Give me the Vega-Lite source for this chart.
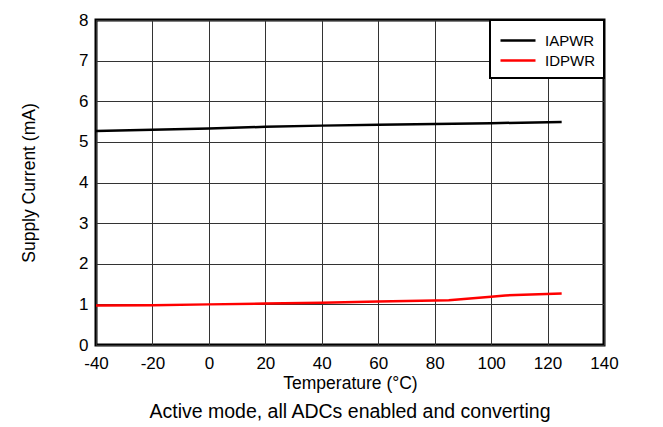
{
  "$schema": "https://vega.github.io/schema/vega-lite/v6.json",
  "autosize": {"type": "none"},
  "padding": {"left": 96, "top": 20, "right": 59, "bottom": 82},
  "width": 508,
  "height": 325,
  "background": "white",
  "config": {
    "font": "Liberation Sans",
    "view": {"stroke": "black", "strokeWidth": 3},
    "axis": {"grid": true, "gridColor": "#333", "gridWidth": 1, "gridOpacity": 1, "domain": false, "ticks": false, "labelFont": "Liberation Sans", "titleFont": "Liberation Sans", "labelFontSize": 17, "labelColor": "black", "titleFontSize": 17.5, "titleFontWeight": "normal", "titleColor": "black", "labelFlush": false},
    "legend": {"labelFont": "Liberation Sans"},
    "title": {"font": "Liberation Sans"}
  },
  "title": {"text": "Active mode, all ADCs enabled and converting", "orient": "bottom", "anchor": "middle", "fontSize": 19.5, "fontWeight": "normal", "color": "black", "offset": 11},
  "data": {"values": [
    {"t": -40, "v": 5.27, "s": "IAPWR"},
    {"t": -20, "v": 5.30, "s": "IAPWR"},
    {"t": 0, "v": 5.33, "s": "IAPWR"},
    {"t": 20, "v": 5.37, "s": "IAPWR"},
    {"t": 40, "v": 5.40, "s": "IAPWR"},
    {"t": 60, "v": 5.42, "s": "IAPWR"},
    {"t": 80, "v": 5.44, "s": "IAPWR"},
    {"t": 100, "v": 5.46, "s": "IAPWR"},
    {"t": 125, "v": 5.49, "s": "IAPWR"},
    {"t": -40, "v": 0.97, "s": "IDPWR"},
    {"t": -20, "v": 0.98, "s": "IDPWR"},
    {"t": 0, "v": 1.0, "s": "IDPWR"},
    {"t": 20, "v": 1.02, "s": "IDPWR"},
    {"t": 40, "v": 1.04, "s": "IDPWR"},
    {"t": 60, "v": 1.07, "s": "IDPWR"},
    {"t": 85, "v": 1.1, "s": "IDPWR"},
    {"t": 100, "v": 1.19, "s": "IDPWR"},
    {"t": 105, "v": 1.22, "s": "IDPWR"},
    {"t": 125, "v": 1.27, "s": "IDPWR"}
  ]},
  "mark": {"type": "line", "strokeWidth": 2.5},
  "encoding": {
    "x": {"field": "t", "type": "quantitative", "scale": {"domain": [-40, 140], "nice": false, "zero": false}, "axis": {"values": [-40, -20, 0, 20, 40, 60, 80, 100, 120, 140], "labelExpr": "replace(datum.label, '−', '-')", "title": "Temperature (°C)", "labelPadding": 10, "titlePadding": 3}},
    "y": {"field": "v", "type": "quantitative", "scale": {"domain": [0, 8], "nice": false}, "axis": {"values": [0, 1, 2, 3, 4, 5, 6, 7, 8], "title": "Supply Current (mA)", "labelPadding": 8, "titlePadding": 40}},
    "color": {"field": "s", "type": "nominal", "scale": {"domain": ["IAPWR", "IDPWR"], "range": ["black", "#ff0000"]}, "legend": {"title": null, "orient": "top-right", "offset": 0, "strokeColor": "black", "fillColor": "white", "padding": 9, "symbolType": "M-1,0H2.5", "symbolSize": 400, "symbolStrokeWidth": 2.5, "labelFontSize": 15, "labelColor": "black", "rowPadding": 0, "labelOffset": 23, "encode": {"legend": {"update": {"strokeWidth": {"value": 2}}}}}}
  }
}
